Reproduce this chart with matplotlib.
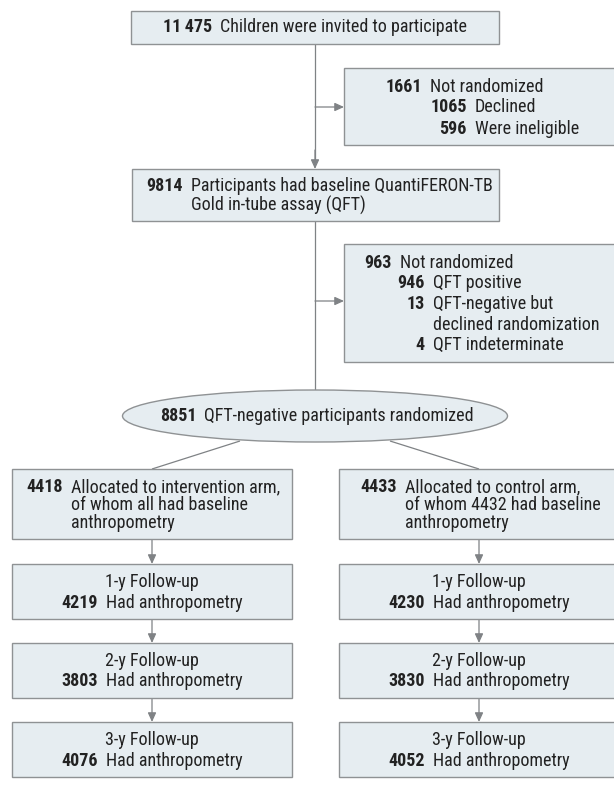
import matplotlib
matplotlib.use('Agg')
import matplotlib.pyplot as plt
from matplotlib.patches import Rectangle, Ellipse

plt.rcParams['font.family'] = ['Roboto Condensed', 'Liberation Sans Narrow',
                               'Lato', 'DejaVu Sans']

# ---------------- data ----------------
invited_n = 11475
invited_lbl = 'Children were invited to participate'
excl1_n = [1661, 1065, 596]
excl1_lbl = ['Not randomized', 'Declined', 'Were ineligible']
qft_n = 9814
qft_lbl = ['Participants had baseline QuantiFERON-TB', 'Gold in-tube assay (QFT)']
excl2_n = [963, 946, 13, 4]
excl2_lbl = [['Not randomized'], ['QFT positive'],
             ['QFT-negative but', 'declined randomization'], ['QFT indeterminate']]
rand_n = 8851
rand_lbl = 'QFT-negative participants randomized'
arm_n = [4418, 4433]
arm_lbl = [['Allocated to intervention arm,', 'of whom all had baseline', 'anthropometry'],
           ['Allocated to control arm,', 'of whom 4432 had baseline', 'anthropometry']]
fu_lbl = ['1-y Follow-up', '2-y Follow-up', '3-y Follow-up']
fu_intervention = [4219, 3803, 4076]
fu_control = [4230, 3830, 4052]
fu_text = 'Had anthropometry'

# ---------------- style ----------------
W, H = 614, 793
FILL = '#e6edf1'
EDGE = '#8f9294'
LINE = '#7f8285'
TXT = '#222222'
FS = 13.0
GAP = 8

fig = plt.figure(figsize=(W / 100, H / 100), dpi=100)
ax = fig.add_axes([0, 0, 1, 1])
ax.set_xlim(0, W)
ax.set_ylim(H, 0)
ax.axis('off')
fig.canvas.draw()
renderer = fig.canvas.get_renderer()


def fmt(n):
    s = f'{n:d}'
    if len(s) >= 5:
        s = s[:-3] + '\u2009' + s[-3:]
    return s


def box(x0, y0, x1, y1):
    ax.add_patch(Rectangle((x0, y0), x1 - x0, y1 - y0, facecolor=FILL,
                           edgecolor=EDGE, lw=1.0, zorder=2))


def line(x0, y0, x1, y1):
    ax.plot([x0, x1], [y0, y1], color=LINE, lw=0.9, zorder=1,
            solid_capstyle='butt')


def arrow(x0, y0, x1, y1):
    ax.annotate('', xy=(x1, y1), xytext=(x0, y0),
                arrowprops=dict(arrowstyle='-|>,head_length=0.55,head_width=0.25',
                                color=LINE, lw=0.9, shrinkA=0, shrinkB=0,
                                mutation_scale=10), zorder=1)


def num_left(xr, y, n, lines, dy):
    ax.text(xr, y, fmt(n), ha='right', va='center', fontsize=FS,
            fontweight='bold', color=TXT, zorder=3)
    for i, t in enumerate(lines):
        ax.text(xr + GAP, y + i * dy, t, ha='left', va='center', fontsize=FS,
                color=TXT, zorder=3)


def width(t):
    return t.get_window_extent(renderer).width


def num_center(cx, y, n, label):
    a = ax.text(0, y, fmt(n), ha='left', va='center', fontsize=FS,
                fontweight='bold', color=TXT, zorder=3)
    b = ax.text(0, y, label, ha='left', va='center', fontsize=FS,
                color=TXT, zorder=3)
    wa, wb = width(a), width(b)
    x0 = cx - (wa + GAP + wb) / 2
    a.set_x(x0)
    b.set_x(x0 + wa + GAP)


MX = 315  # main spine

# top box
box(131, 11, 499, 44)
num_center(315, 27.5, invited_n, invited_lbl)

# spine top section
line(MX, 44, MX, 160)
arrow(MX, 150, MX, 169)
arrow(MX, 107, 344, 107)

# exclusion box 1
box(344, 68, 620, 145)
num_left(422, 86.5, excl1_n[0], [excl1_lbl[0]], 21)
num_left(467, 107.5, excl1_n[1], [excl1_lbl[1]], 21)
num_left(467, 128.5, excl1_n[2], [excl1_lbl[2]], 21)

# QFT box
box(132, 169, 499, 221)
num_left(183, 186, qft_n, qft_lbl, 19)

# spine second section
line(MX, 221, MX, 391)
arrow(MX, 301, 344, 301)

# exclusion box 2
box(344, 244, 620, 362)
ys2 = [262.5, 283.5, 304, 345]
num_left(392, ys2[0], excl2_n[0], excl2_lbl[0], 20.5)
for k in range(1, 4):
    num_left(425, ys2[k], excl2_n[k], excl2_lbl[k], 20.5)

# ellipse
ax.add_patch(Ellipse((315, 416), 385, 52, facecolor=FILL, edgecolor=EDGE,
                     lw=1.0, zorder=2))
num_center(317, 416, rand_n, rand_lbl)

# branches
LC, RC = 152, 479
line(240, 441, LC, 469)
line(390, 441, RC, 469)

# arm boxes
box(12, 469, 292, 539)
num_left(63, 487.5, arm_n[0], arm_lbl[0], 18)
box(339, 469, 620, 539)
num_left(397, 487.5, arm_n[1], arm_lbl[1], 18)

# follow-up boxes
fu_top = [564, 643, 722]
fu_h = 55
prev_bottom = 539
for i, lbl in enumerate(fu_lbl):
    t = fu_top[i]
    for cx, x0, x1, vals in [(LC, 12, 292, fu_intervention),
                             (RC, 339, 620, fu_control)]:
        arrow(cx, prev_bottom, cx, t)
        box(x0, t, x1, t + fu_h)
        ax.text(cx, t + 18, lbl, ha='center', va='center', fontsize=FS,
                color=TXT, zorder=3)
        num_center(cx, t + 38.5, vals[i], fu_text)
    prev_bottom = t + fu_h

fig.savefig('out.png', dpi=100)
